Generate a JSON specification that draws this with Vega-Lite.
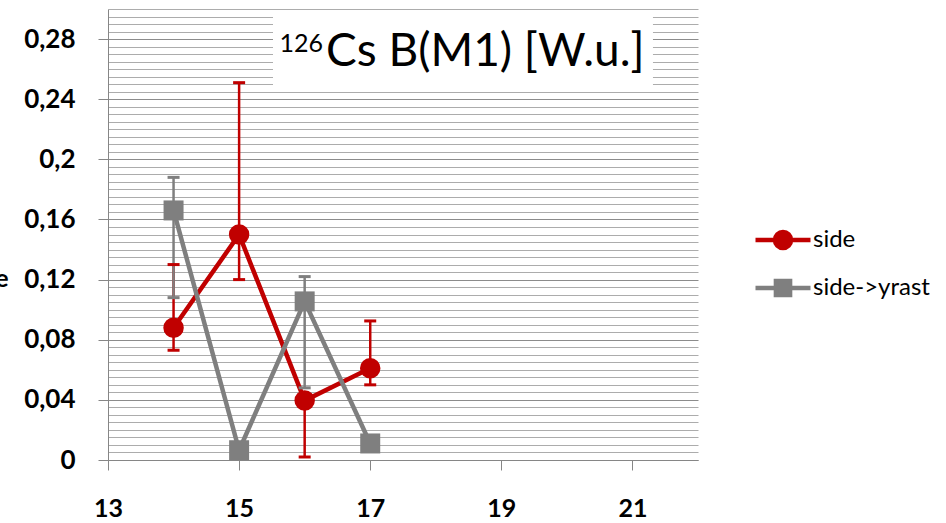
{
  "$schema": "https://vega.github.io/schema/vega-lite/v6.json",
  "width": 590,
  "height": 451,
  "autosize": {"type": "none"},
  "padding": {"left": 108, "top": 9, "right": 248, "bottom": 63},
  "background": "white",
  "config": {
    "view": {"stroke": null},
    "font": "Lato",
    "axis": {
      "domainColor": "#868686",
      "tickColor": "#868686",
      "labelFont": "Lato",
      "labelFontWeight": "bold",
      "labelFontSize": 26,
      "labelColor": "#000000",
      "labelFlush": false,
      "labelOverlap": false
    },
    "legend": {
      "orient": "none",
      "legendX": 653,
      "legendY": 209,
      "labelFont": "Lato",
      "labelFontSize": 24,
      "labelColor": "#000000",
      "labelOffset": 8,
      "rowPadding": 8,
      "symbolSize": 1543,
      "symbolStrokeWidth": 4.5,
      "symbolOpacity": 1
    }
  },
  "resolve": {"axis": {"y": "independent"}},
  "datasets": {
    "pts": [
      {"n": 14, "series": "side", "v": 0.088, "lo": 0.073, "hi": 0.13},
      {"n": 15, "series": "side", "v": 0.15, "lo": 0.12, "hi": 0.251},
      {"n": 16, "series": "side", "v": 0.0395, "lo": 0.002, "hi": 0.0395},
      {"n": 17, "series": "side", "v": 0.061, "lo": 0.05, "hi": 0.0925},
      {"n": 14, "series": "side->yrast", "v": 0.166, "lo": 0.108, "hi": 0.188},
      {"n": 15, "series": "side->yrast", "v": 0.0065},
      {"n": 16, "series": "side->yrast", "v": 0.1055, "lo": 0.048, "hi": 0.122},
      {"n": 17, "series": "side->yrast", "v": 0.011}
    ],
    "note": [
      {"sup": "126", "main": "Cs B(M1) [W.u.]"}
    ]
  },
  "data": {"name": "pts"},
  "layer": [
    {
      "transform": [{"filter": "isValid(datum.lo)"}],
      "mark": {"type": "rule", "strokeWidth": 2.5},
      "encoding": {
        "x": {"field": "n", "type": "quantitative", "scale": {"domain": [13, 22], "nice": false, "zero": false}},
        "y": {
          "field": "lo", "type": "quantitative",
          "scale": {"domain": [0, 0.3], "nice": false, "zero": false},
          "axis": {
            "orient": "left",
            "title": null,
            "values": [0.005, 0.01, 0.015, 0.02, 0.025, 0.03, 0.035, 0.045, 0.05, 0.055, 0.06, 0.065, 0.07, 0.075, 0.085, 0.09, 0.095, 0.1, 0.105, 0.11, 0.115, 0.125, 0.13, 0.135, 0.14, 0.145, 0.15, 0.155, 0.165, 0.17, 0.175, 0.18, 0.185, 0.19, 0.195, 0.205, 0.21, 0.215, 0.22, 0.225, 0.23, 0.235, 0.245, 0.25, 0.255, 0.26, 0.265, 0.27, 0.275, 0.285, 0.29, 0.295, 0.3],
            "grid": true,
            "gridColor": "#acacac",
            "gridWidth": 1,
            "labels": false,
            "ticks": false,
            "domain": false
          }
        },
        "y2": {"field": "hi"},
        "color": {"field": "series", "type": "nominal", "scale": {"domain": ["side", "side->yrast"], "range": ["#C00000", "#7F7F7F"]}, "legend": {"title": null}}
      }
    },
    {
      "mark": {"type": "line", "strokeWidth": 4.5},
      "encoding": {
        "x": {
          "field": "n", "type": "quantitative",
          "scale": {"domain": [13, 22], "nice": false, "zero": false},
          "axis": {
            "title": null,
            "values": [13, 15, 17, 19, 21],
            "format": "d",
            "grid": false,
            "tickSize": 10,
            "labelPadding": 26,
            "labelFontSize": 25
          }
        },
        "y": {
          "field": "v", "type": "quantitative",
          "scale": {"domain": [0, 0.3], "nice": false, "zero": false},
          "axis": {
            "orient": "left",
            "title": "Axis Title",
            "titleAngle": 0,
            "titleAlign": "right",
            "titleBaseline": "middle",
            "titleX": -100,
            "titleY": 269,
            "titleFont": "Lato",
            "titleFontSize": 25,
            "titleFontWeight": "bold",
            "titleColor": "#000000",
            "values": [0, 0.04, 0.08, 0.12, 0.16, 0.2, 0.24, 0.28],
            "grid": true,
            "gridWidth": 1,
            "gridColor": "#8c8c8c",
            "tickSize": 10,
            "labelExpr": "replace(format(datum.value, '.2~f'), '.', ',')",
            "labelPadding": 23
          }
        },
        "color": {"field": "series", "type": "nominal", "scale": {"domain": ["side", "side->yrast"], "range": ["#C00000", "#7F7F7F"]}, "legend": {"title": null}}
      }
    },
    {
      "transform": [{"filter": "isValid(datum.lo)"}],
      "mark": {"type": "tick", "orient": "horizontal", "size": 12, "thickness": 3, "opacity": 1},
      "encoding": {
        "x": {"field": "n", "type": "quantitative", "scale": {"domain": [13, 22], "nice": false, "zero": false}},
        "y": {"field": "lo", "type": "quantitative", "scale": {"domain": [0, 0.3], "nice": false, "zero": false}, "axis": null},
        "color": {"field": "series", "type": "nominal", "scale": {"domain": ["side", "side->yrast"], "range": ["#C00000", "#7F7F7F"]}, "legend": {"title": null}}
      }
    },
    {
      "transform": [{"filter": "isValid(datum.hi)"}],
      "mark": {"type": "tick", "orient": "horizontal", "size": 12, "thickness": 3, "opacity": 1},
      "encoding": {
        "x": {"field": "n", "type": "quantitative", "scale": {"domain": [13, 22], "nice": false, "zero": false}},
        "y": {"field": "hi", "type": "quantitative", "scale": {"domain": [0, 0.3], "nice": false, "zero": false}, "axis": null},
        "color": {"field": "series", "type": "nominal", "scale": {"domain": ["side", "side->yrast"], "range": ["#C00000", "#7F7F7F"]}, "legend": {"title": null}}
      }
    },
    {
      "transform": [{"filter": "datum.series === 'side'"}],
      "mark": {"type": "point", "shape": "circle", "filled": true, "size": 420, "opacity": 1, "color": "#C00000"},
      "encoding": {
        "x": {"field": "n", "type": "quantitative", "scale": {"domain": [13, 22], "nice": false, "zero": false}},
        "y": {"field": "v", "type": "quantitative", "scale": {"domain": [0, 0.3], "nice": false, "zero": false}, "axis": null}
      }
    },
    {
      "transform": [{"filter": "datum.series === 'side->yrast'"}],
      "mark": {"type": "point", "shape": "square", "filled": true, "size": 400, "opacity": 1, "color": "#7F7F7F"},
      "encoding": {
        "x": {"field": "n", "type": "quantitative", "scale": {"domain": [13, 22], "nice": false, "zero": false}},
        "y": {"field": "v", "type": "quantitative", "scale": {"domain": [0, 0.3], "nice": false, "zero": false}, "axis": null}
      }
    },
    {
      "transform": [{"filter": "false"}],
      "mark": {"type": "point", "filled": true, "opacity": 1, "strokeWidth": 4.5},
      "encoding": {
        "x": {"field": "n", "type": "quantitative", "scale": {"domain": [13, 22], "nice": false, "zero": false}},
        "y": {"field": "v", "type": "quantitative", "scale": {"domain": [0, 0.3], "nice": false, "zero": false}, "axis": null},
        "shape": {"field": "series", "type": "nominal", "scale": {"domain": ["side", "side->yrast"], "range": ["M-1.4,0L1.4,0M-0.41,0A0.41,0.41,0,1,1,0.41,0A0.41,0.41,0,1,1,-0.41,0Z", "M-1.4,0L1.4,0M-0.36,-0.36L0.36,-0.36L0.36,0.36L-0.36,0.36Z"]}, "legend": {"title": null}},
        "fill": {"field": "series", "type": "nominal", "scale": {"domain": ["side", "side->yrast"], "range": ["#C00000", "#7F7F7F"]}, "legend": {"title": null}},
        "stroke": {"field": "series", "type": "nominal", "scale": {"domain": ["side", "side->yrast"], "range": ["#C00000", "#7F7F7F"]}, "legend": {"title": null}}
      }
    },
    {
      "data": {"name": "note"},
      "mark": {"type": "rect", "color": "white"},
      "encoding": {
        "x": {"datum": 15.517, "type": "quantitative", "scale": {"domain": [13, 22], "nice": false, "zero": false}},
        "x2": {"datum": 21.313},
        "y": {"datum": 0.2947, "type": "quantitative", "scale": {"domain": [0, 0.3], "nice": false, "zero": false}, "axis": null},
        "y2": {"datum": 0.248}
      }
    },
    {
      "data": {"name": "note"},
      "mark": {"type": "text", "font": "Lato", "fontSize": 25, "align": "right", "baseline": "alphabetic", "color": "#000000"},
      "encoding": {
        "x": {"datum": 16.28, "type": "quantitative", "scale": {"domain": [13, 22], "nice": false, "zero": false}},
        "y": {"datum": 0.2713, "type": "quantitative", "scale": {"domain": [0, 0.3], "nice": false, "zero": false}, "axis": null},
        "text": {"field": "sup"}
      }
    },
    {
      "data": {"name": "note"},
      "mark": {"type": "text", "font": "Lato", "fontSize": 46, "align": "left", "baseline": "alphabetic", "color": "#000000"},
      "encoding": {
        "x": {"datum": 16.325, "type": "quantitative", "scale": {"domain": [13, 22], "nice": false, "zero": false}},
        "y": {"datum": 0.262, "type": "quantitative", "scale": {"domain": [0, 0.3], "nice": false, "zero": false}, "axis": null},
        "text": {"field": "main"}
      }
    }
  ]
}
